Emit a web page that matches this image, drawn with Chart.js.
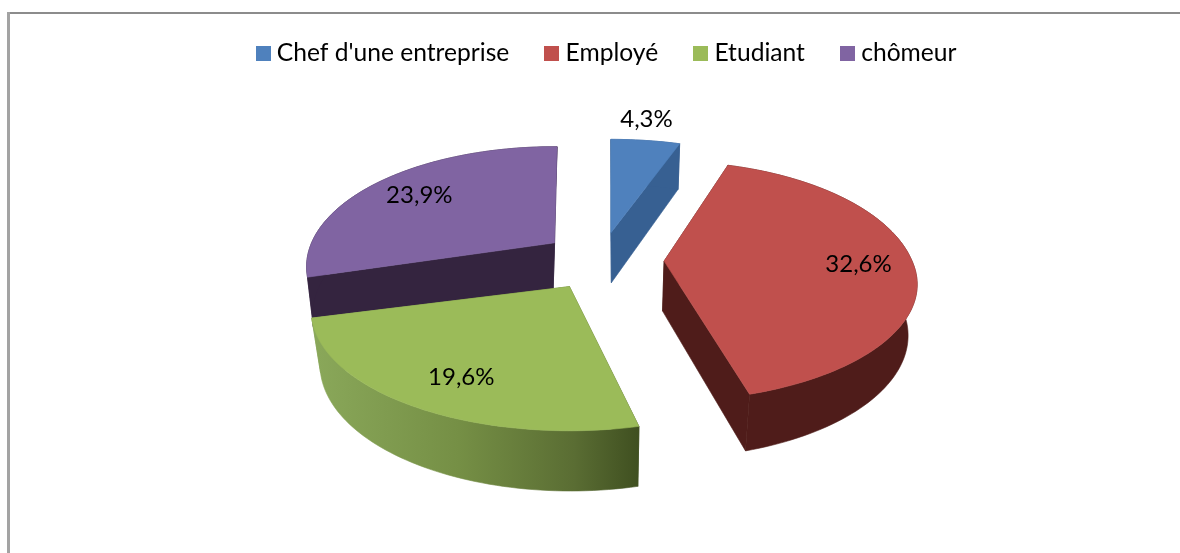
<!DOCTYPE html>
<html>
<head>
<meta charset="utf-8">
<script src="https://cdn.jsdelivr.net/npm/chart.js@4"></script>
<style>
html,body{margin:0;padding:0;background:#fff;overflow:hidden}
#wrap{position:relative;width:1180px;height:553px}
#top{position:absolute;left:7px;right:0;top:12px;height:2px;background:#8c8c8c}
#left{position:absolute;left:7px;width:3px;top:12px;bottom:0;background:#a3a3a3}
canvas{position:absolute;left:0;top:0}
</style>
</head>
<body>
<div id="wrap"><div id="top"></div><div id="left"></div><canvas id="c" width="1180" height="553"></canvas></div>
<script>
const categories = ["Chef d'une entreprise", "Employé", "Etudiant", "chômeur"];
const values = [4.3, 32.6, 19.6, 23.9];
const valueLabels = ["4,3%", "32,6%", "19,6%", "23,9%"];

const topColors = ["#4f81bd", "#c0504d", "#9bbb59", "#8064a2"];
const sideColors = ["#376092", "#4f1c1a", null, "#34243f"];
const labelFactors = [1.25, 0.78, 0.8, 0.75];
const labelNudgeX = [-6, 0, 4, 2];
const labelNudgeY = [-3, 0, 0, -2];
// small per-slice corrections for the reference's perspective
const sliceRot = [0, -1.4, 2, 0.7];
const sliceSX = [1, 1, 1.02, 0.98];
const sliceSY = [1, 1, 1.03, 1.03];
const sliceBackY = [1, 1.07, 1, 1];
const sliceDX = [0, 1, 0, 2];
const sliceDY = [-2, -1, 0, -2];
const sliceDepth = [50, 50, 53, 48];
const sliceShift = [0.5, -1.5, 1, -1.5];

const FONT = "Lato, 'Noto Sans', sans-serif";
const LEGEND_SIZE = 24.6;
const LABEL_SIZE = 24;
const view = {cx: 601, cy: 261, rx: 248, ry: 112, persp: 0.2, explode: 0.25, bx: 0.97, by: 1.05};

function project(u, v) {
  const w = 1 - view.persp * v;
  return {x: view.rx * u / w, y: view.ry * v / w};
}

function swatch(color) {
  const c = document.createElement('canvas');
  c.width = 15; c.height = 15;
  const g = c.getContext('2d');
  g.fillStyle = color; g.fillRect(0, 0, 15, 15);
  return c;
}

function poly(ctx, pts, fill) {
  ctx.beginPath();
  pts.forEach((p, i) => i ? ctx.lineTo(p.x, p.y) : ctx.moveTo(p.x, p.y));
  ctx.closePath();
  ctx.fillStyle = fill;
  ctx.strokeStyle = fill;
  ctx.lineWidth = 0.6;
  ctx.fill();
  ctx.stroke();
}

const pie3d = {
  id: 'pie3d',
  beforeDatasetsDraw(chart) {
    const ctx = chart.ctx;
    const arcs = chart.getDatasetMeta(0).data;
    const slices = arcs.map((arc, i) => {
      const rot = sliceRot[i] * Math.PI / 180;
      const a0 = arc.startAngle + rot, a1 = arc.endAngle + rot, m = (arc.startAngle + arc.endAngle) / 2;
      const e = project(view.explode * Math.cos(m), view.explode * Math.sin(m));
      const apex = {x: view.cx + e.x + sliceDX[i], y: view.cy + e.y + sliceDY[i]};
      const rim = [];
      const steps = Math.max(6, Math.ceil((a1 - a0) * 40));
      for (let k = 0; k <= steps; k++) {
        const a = a0 + (a1 - a0) * k / steps;
        const p = project(Math.cos(a), Math.sin(a));
        const back = p.y < 0 ? sliceBackY[i] : 1;
        rim.push({x: apex.x + p.x * sliceSX[i], y: apex.y + p.y * sliceSY[i] * back});
      }
      const lower = p => ({
        x: apex.x + sliceShift[i] + (p.x - apex.x) * view.bx,
        y: apex.y + sliceDepth[i] + (p.y - apex.y) * view.by
      });
      return {i, m, apex, rim, lower};
    }).sort((s, t) => Math.sin(s.m) - Math.sin(t.m));

    ctx.save();
    slices.forEach(s => {
      const {i, apex, rim, lower} = s;
      let side = sideColors[i];
      if (!side) {
        const g = ctx.createLinearGradient(312, 0, 640, 0);
        g.addColorStop(0, "#8aa85a");
        g.addColorStop(0.45, "#758f45");
        g.addColorStop(0.8, "#5a6d33");
        g.addColorStop(1, "#3f4f20");
        side = g;
      }
      const first = rim[0], last = rim[rim.length - 1];
      poly(ctx, [apex, first, lower(first), lower(apex)], side);
      poly(ctx, [apex, last, lower(last), lower(apex)], side);
      poly(ctx, rim.concat(rim.slice().reverse().map(lower)), side);
      poly(ctx, [apex].concat(rim), topColors[i]);
    });
    // value labels
    ctx.fillStyle = "#000";
    ctx.font = LABEL_SIZE + "px " + FONT;
    ctx.textAlign = "center";
    ctx.textBaseline = "middle";
    slices.forEach(s => {
      const f = labelFactors[s.i];
      const p = project(f * Math.cos(s.m), f * Math.sin(s.m));
      ctx.fillText(valueLabels[s.i], s.apex.x + p.x + labelNudgeX[s.i], s.apex.y + p.y + labelNudgeY[s.i]);
    });
    ctx.restore();
    return false;
  }
};

new Chart(document.getElementById('c'), {
  type: 'pie',
  data: {
    labels: categories,
    datasets: [{data: values, backgroundColor: topColors, borderWidth: 0}]
  },
  plugins: [pie3d],
  options: {
    responsive: false,
    animation: false,
    layout: {padding: {left: 38, top: 0}},
    plugins: {
      tooltip: {enabled: false},
      legend: {
        position: 'top',
        labels: {
          color: "#000",
          font: {family: FONT, size: LEGEND_SIZE},
          usePointStyle: true,
          pointStyleWidth: 3,
          boxHeight: 15,
          padding: 41,
          generateLabels(chart) {
            return chart.data.labels.map((t, i) => ({
              text: t, index: i, fillStyle: topColors[i], strokeStyle: topColors[i],
              lineWidth: 0, hidden: false, pointStyle: swatch(topColors[i]), fontColor: "#000"
            }));
          }
        }
      }
    }
  }
});
</script>
</body>
</html>
